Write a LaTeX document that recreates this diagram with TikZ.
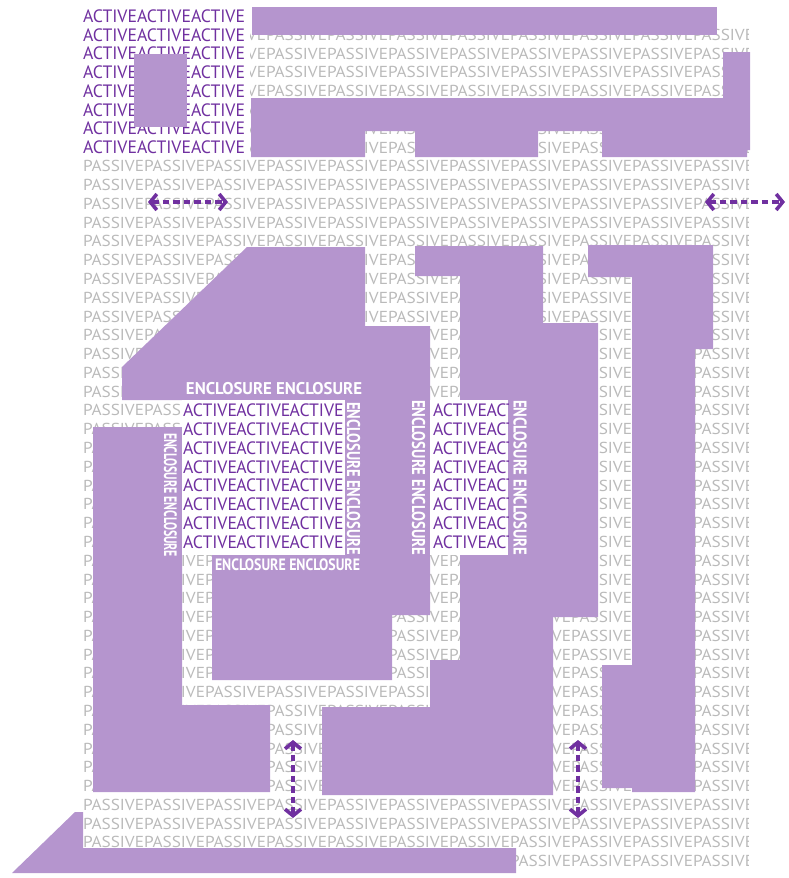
\documentclass[tikz,border=0pt]{standalone}
\usepackage{fontspec}
\usepackage{graphicx}
\newfontfamily\ptsans{PT Sans}
\usetikzlibrary{arrows.meta}
\definecolor{lav}{RGB}{181,149,206}
\definecolor{actv}{RGB}{112,48,160}
\definecolor{pasv}{RGB}{186,186,186}
\newcommand\pword{\resizebox{61pt}{\height}{\ptsans\fontsize{15.9}{15.9}\selectfont PASSIVE}}
\newcommand\aword{\resizebox{54pt}{\height}{\ptsans\fontsize{17.9}{17.9}\selectfont ACTIVE}}
\newcommand\encl[2]{\resizebox{#1}{\height}{\ptsans\bfseries\fontsize{#2}{#2}\selectfont ENCLOSURE ENCLOSURE}}
\tikzset{
  wordnode/.style={anchor=base west, inner sep=0pt, outer sep=0pt},
  pw/.style={wordnode, text=pasv},
  aw/.style={wordnode, text=actv},
  enc/.style={inner sep=0pt, outer sep=0pt, text=white},
  shape fill/.style={fill=lav},
  darr/.style={draw=actv, line width=3.6pt, dash pattern=on 6.5pt off 4pt,
    {Straight Barb[length=6.5pt,width=16pt]}-{Straight Barb[length=6.5pt,width=16pt]}}
}
\begin{document}
\begin{tikzpicture}[x=1pt,y=-1pt]
\useasboundingbox (0,0) rectangle (789,878);
% passive background text
\begin{scope}
\clip (83,28) rectangle (748,872);
\foreach \r in {0,...,45}{
  \foreach \k in {0,...,10}{
    \node[pw] (p-\r-\k) at ({83+61*\k},{21.6+18.78*\r}) {\pword};
  }
}
\end{scope}
% purple shapes
\fill[shape fill] (252,7) rectangle (717,35);
\fill[shape fill] (251,98) -- (723,98) -- (723,52) -- (750,52) -- (750,150) -- (747,150) -- (747,157) -- (602,157) -- (602,131) -- (538,131) -- (538,157) -- (415,157) -- (415,131) -- (365,131) -- (365,157) -- (251,157) -- cycle;
\fill[shape fill] (122,367) -- (247,247) -- (365,247) -- (365,326) -- (430,326) -- (430,615) -- (392,615) -- (392,680) -- (212,680) -- (212,555) -- (345,555) -- (345,400) -- (122,400) -- cycle;
\fill[shape fill] (93,427) -- (182,427) -- (182,705) -- (270,705) -- (270,792) -- (93,792) -- cycle;
\fill[shape fill] (415,246) -- (543,246) -- (543,323) -- (598,323) -- (598,617) -- (553,617) -- (553,795) -- (322,795) -- (322,707) -- (430,707) -- (430,660) -- (460,660) -- (460,276) -- (415,276) -- cycle;
\fill[shape fill] (588,245) -- (713,245) -- (713,349) -- (695,349) -- (695,792) -- (632,792) -- (632,788) -- (602,788) -- (602,665) -- (632,665) -- (632,277) -- (588,277) -- cycle;
\fill[shape fill] (12,873) -- (75,812) -- (83,812) -- (83,848) -- (516,848) -- (516,873) -- cycle;
% active blocks
\fill[white] (83,3) rectangle (250,157);
\foreach \r in {0,...,7}{
  \foreach \k in {0,1,2}{
    \node[aw] (a-\r-\k) at ({83+54*\k},{22.3+18.78*\r}) {\aword};
  }
}
\fill[white] (182,400) rectangle (345,555);
\foreach \r in {21,...,28}{
  \foreach \k in {0,1,2}{
    \node[aw] (b-\r-\k) at ({183+53.3*\k},{22.3+18.78*\r}) {\aword};
  }
}
\fill[white] (430,400) rectangle (508,555);
\begin{scope}
\clip (430,400) rectangle (508,555);
\foreach \r in {21,...,28}{
  \foreach \k in {0,1}{
    \node[aw] (c-\r-\k) at ({433+53.5*\k},{22.3+18.78*\r}) {\aword};
  }
}
\end{scope}
\fill[shape fill] (134,54) rectangle (187,127);
% enclosure labels
\node[enc] (e1) at (274,389) {\encl{176pt}{17}};
\node[enc] (e2) at (287.5,565) {\encl{145pt}{16.4}};
\node[enc, rotate=-90] (e3) at (170.5,495) {\encl{124pt}{18}};
\node[enc, rotate=-90] (e4) at (353.5,478.5) {\encl{153pt}{18.5}};
\node[enc, rotate=-90] (e5) at (418.5,477.5) {\encl{155pt}{18.5}};
\node[enc, rotate=-90] (e6) at (520,477.5) {\encl{155pt}{18.5}};
% arrows
\coordinate (h1a) at (148,202);
\coordinate (h1b) at (228,202);
\coordinate (h2a) at (705,202);
\coordinate (h2b) at (785,202);
\coordinate (v1a) at (293,740);
\coordinate (v1b) at (293,818);
\coordinate (v2a) at (578,740);
\coordinate (v2b) at (578,818);
\draw[darr] (h1a) -- (h1b);
\draw[darr] (h2a) -- (h2b);
\draw[darr] (v1a) -- (v1b);
\draw[darr] (v2a) -- (v2b);
\end{tikzpicture}
\end{document}
